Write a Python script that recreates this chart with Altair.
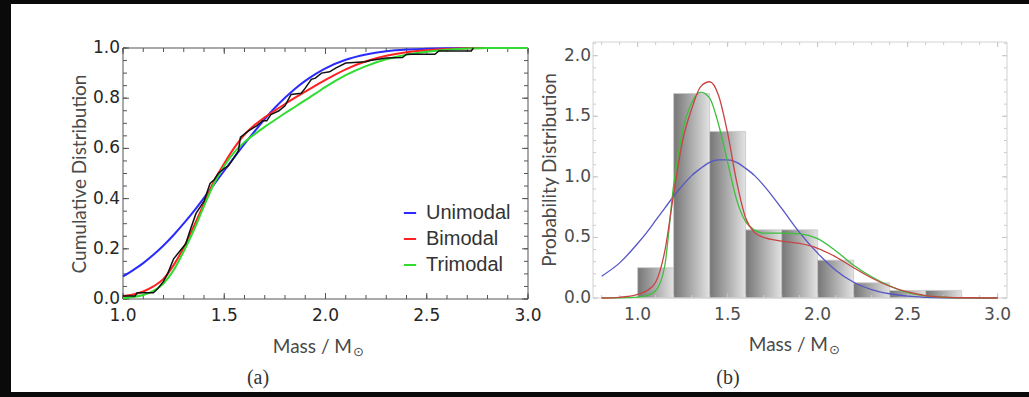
import altair as alt
import pandas as pd

# ---------------- data ----------------
models = ["Unimodal", "Bimodal", "Trimodal"]

# (a) cumulative distributions
cdf_mass = [1.0, 1.05, 1.1, 1.15, 1.2, 1.25, 1.3, 1.35, 1.4, 1.45, 1.5, 1.55, 1.6, 1.65,
            1.7, 1.75, 1.8, 1.85, 1.9, 1.95, 2.0, 2.1, 2.2, 2.3, 2.4, 2.5, 2.6, 2.7, 2.8, 3.0]
cdf_unimodal = [0.09, 0.115, 0.143, 0.176, 0.213, 0.255, 0.301, 0.35, 0.403, 0.457, 0.511,
                0.565, 0.618, 0.668, 0.717, 0.762, 0.802, 0.838, 0.869, 0.896, 0.919,
                0.953, 0.974, 0.987, 0.994, 0.997, 0.999, 1.0, 1.0, 1.0]
cdf_bimodal = [0.012, 0.018, 0.03, 0.05, 0.08, 0.135, 0.205, 0.29, 0.38, 0.47, 0.54,
               0.603, 0.655, 0.693, 0.724, 0.751, 0.777, 0.802, 0.826, 0.85, 0.873,
               0.915, 0.947, 0.969, 0.983, 0.991, 0.996, 0.999, 1.0, 1.0]
cdf_trimodal = [0.003, 0.008, 0.016, 0.032, 0.062, 0.115, 0.19, 0.275, 0.37, 0.46, 0.53,
                0.585, 0.625, 0.657, 0.686, 0.713, 0.74, 0.766, 0.792, 0.818, 0.845,
                0.892, 0.928, 0.955, 0.973, 0.985, 0.993, 0.998, 1.0, 1.0]

# empirical cumulative distribution (black)
emp_mass = [1.00, 1.06, 1.07, 1.15, 1.17, 1.20, 1.22, 1.25, 1.28, 1.31, 1.33, 1.36, 1.40,
            1.43, 1.45, 1.47, 1.50, 1.52, 1.55, 1.57, 1.58, 1.62, 1.66, 1.69, 1.71, 1.73,
            1.77, 1.80, 1.83, 1.88, 1.90, 1.93, 1.95, 1.98, 2.02, 2.05, 2.10, 2.20, 2.22,
            2.30, 2.38, 2.40, 2.54, 2.56, 2.72, 2.73]
emp_cdf = [0.012, 0.012, 0.025, 0.025, 0.04, 0.07, 0.10, 0.16, 0.19, 0.22, 0.27, 0.34, 0.39,
           0.46, 0.475, 0.50, 0.52, 0.53, 0.565, 0.59, 0.645, 0.67, 0.69, 0.71, 0.71, 0.735,
           0.75, 0.77, 0.815, 0.82, 0.84, 0.875, 0.88, 0.90, 0.905, 0.92, 0.94, 0.945, 0.95,
           0.96, 0.962, 0.975, 0.975, 0.988, 0.988, 1.0]

# (b) probability distributions
pdf_mass = [0.8, 0.9, 1.0, 1.05, 1.1, 1.15, 1.2, 1.25, 1.3, 1.35, 1.4, 1.45, 1.5, 1.55,
            1.6, 1.65, 1.7, 1.8, 1.9, 2.0, 2.1, 2.2, 2.3, 2.4, 2.5, 2.6, 2.7, 2.8, 3.0]
pdf_unimodal = [0.18, 0.29, 0.45, 0.54, 0.64, 0.74, 0.84, 0.93, 1.01, 1.07, 1.12, 1.14,
                1.14, 1.12, 1.07, 1.01, 0.93, 0.74, 0.54, 0.37, 0.23, 0.13, 0.07, 0.035,
                0.015, 0.006, 0.002, 0.001, 0.0]
pdf_bimodal = [0.0, 0.006, 0.03, 0.06, 0.13, 0.38, 0.86, 1.30, 1.56, 1.745, 1.785, 1.67,
               1.36, 0.96, 0.66, 0.54, 0.50, 0.47, 0.45, 0.41, 0.34, 0.25, 0.165, 0.097,
               0.05, 0.02, 0.007, 0.002, 0.0]
pdf_trimodal = [0.0, 0.001, 0.008, 0.02, 0.06, 0.26, 0.93, 1.38, 1.61, 1.70, 1.65, 1.43,
                1.12, 0.81, 0.63, 0.56, 0.535, 0.535, 0.53, 0.49, 0.39, 0.27, 0.175, 0.10,
                0.045, 0.018, 0.006, 0.002, 0.0]

hist_lo = [1.0, 1.2, 1.4, 1.6, 1.8, 2.0, 2.2, 2.4, 2.6]
hist_hi = [1.2, 1.4, 1.6, 1.8, 2.0, 2.2, 2.4, 2.6, 2.8]
hist_density = [0.25, 1.6875, 1.375, 0.5625, 0.5625, 0.3125, 0.125, 0.0625, 0.0625]

# axis tick labels
a_xlabels = [1.0, 1.5, 2.0, 2.5, 3.0]
a_ylabels = [0.0, 0.2, 0.4, 0.6, 0.8, 1.0]
b_xlabels = [1.0, 1.5, 2.0, 2.5, 3.0]
b_ylabels = [0.0, 0.5, 1.0, 1.5, 2.0]

assert len(emp_mass) == len(emp_cdf)
assert len(cdf_mass) == len(cdf_unimodal) == len(cdf_bimodal) == len(cdf_trimodal)
assert len(pdf_mass) == len(pdf_unimodal) == len(pdf_bimodal) == len(pdf_trimodal)

# ---------------- styling ----------------
W1, H1, TOP1 = 405, 257, 6      # panel (a): plot frame starts 6 px below the cell top
W2, H2 = 414, 256
A_COLORS = ["#2a2aff", "#ff2020", "#2fdc2f"]
B_COLORS = ["#5555c8", "#c84444", "#3cbf3c"]
LABEL_FONT = "DejaVu Sans"
TITLE_FONT = "Lato"
TITLE_COLOR = "#4a4a4a"
BORDER = "#0a0a0a"

one = pd.DataFrame({"k": [0]})

a_x = alt.Scale(domain=[1.0, 3.0], nice=False, zero=False)
a_y = alt.Scale(domain=[0.0, 1.0 + TOP1 / (H1 - TOP1)], nice=False, zero=False)
b_x = alt.Scale(domain=[0.752, 3.052], nice=False, zero=False)
b_y = alt.Scale(domain=[0.0, 2.113], nice=False, zero=False)


def frange(a, b, step):
    n = int(round((b - a) / step))
    return [round(a + i * step, 4) for i in range(n + 1)]


def tick_layers(xs, ys, xscale, yscale, W, H, top, length, color):
    layers = []
    dx = pd.DataFrame({"t": xs})
    dy = pd.DataFrame({"t": ys})
    base_x = alt.Chart(dx).mark_rule(color=color, strokeWidth=1)
    base_y = alt.Chart(dy).mark_rule(color=color, strokeWidth=1)
    X = alt.X("t:Q", scale=xscale, axis=None)
    Y = alt.Y("t:Q", scale=yscale, axis=None)
    layers.append(base_x.encode(x=X, y=alt.value(H), y2=alt.value(H - length)))
    layers.append(base_x.encode(x=X, y=alt.value(top), y2=alt.value(top + length)))
    layers.append(base_y.encode(y=Y, x=alt.value(0), x2=alt.value(length)))
    layers.append(base_y.encode(y=Y, x=alt.value(W), x2=alt.value(W - length)))
    return layers


def label_layers(xvals, yvals, xscale, yscale, xlab_y, ylab_x, color, size):
    dx = pd.DataFrame({"v": xvals, "s": [f"{v:.1f}" for v in xvals]})
    dy = pd.DataFrame({"v": yvals, "s": [f"{v:.1f}" for v in yvals]})
    lx = alt.Chart(dx).mark_text(font=LABEL_FONT, fontSize=size, color=color,
                                 baseline="middle", align="center").encode(
        x=alt.X("v:Q", scale=xscale, axis=None), y=alt.value(xlab_y), text="s:N")
    ly = alt.Chart(dy).mark_text(font=LABEL_FONT, fontSize=size, color=color,
                                 baseline="middle", align="right").encode(
        y=alt.Y("v:Q", scale=yscale, axis=None), x=alt.value(ylab_x), text="s:N")
    return [lx, ly]


def text_at(txt, x, y, font=TITLE_FONT, size=19, color=TITLE_COLOR, angle=0, align="center"):
    return alt.Chart(one).mark_text(text=txt, font=font, fontSize=size, color=color,
                                    angle=angle, baseline="middle", align=align).encode(
        x=alt.value(x), y=alt.value(y))


def mass_title(x_end, y):
    # "Mass / M" followed by a subscript solar symbol
    return [text_at("Mass / M", x_end, y, align="right"),
            text_at("\u2299", x_end + 1, y + 5, font="DejaVu Sans", size=13, align="left")]


def strip(x0, x1, y0, y1):
    return alt.Chart(one).mark_rect(color=BORDER).encode(
        x=alt.value(x0), x2=alt.value(x1), y=alt.value(y0), y2=alt.value(y1))


# ---------------- panel (a) ----------------
border_a = [strip(-123, -112, -42, 355), strip(-123, 450, -42, -38), strip(-123, 450, 350, 355)]

frame_a = alt.Chart(one).mark_rect(fillOpacity=0, stroke="#555555", strokeWidth=1).encode(
    x=alt.value(0), x2=alt.value(W1), y=alt.value(TOP1), y2=alt.value(H1))

ticks_a = (tick_layers(frange(1.0, 3.0, 0.1), frange(0.0, 1.0, 0.05), a_x, a_y, W1, H1, TOP1, 4, "#555555")
           + tick_layers(frange(1.0, 3.0, 0.5), frange(0.0, 1.0, 0.2), a_x, a_y, W1, H1, TOP1, 6, "#555555"))

labels_a = label_layers(a_xlabels, a_ylabels, a_x, a_y, H1 + 17, -3, "#262626", 17)
titles_a = mass_title(229, 305) + [text_at("Cumulative Distribution", -43, 132, angle=270)]

cdf_rows = []
for name, vals in zip(models, [cdf_unimodal, cdf_bimodal, cdf_trimodal]):
    for m, f in zip(cdf_mass, vals):
        cdf_rows.append({"mass": m, "F": f, "model": name})
cdf_df = pd.DataFrame(cdf_rows)

curves_a = alt.Chart(cdf_df).mark_line(strokeWidth=2, interpolate="monotone").encode(
    x=alt.X("mass:Q", scale=a_x, axis=None),
    y=alt.Y("F:Q", scale=a_y, axis=None),
    color=alt.Color("model:N", scale=alt.Scale(domain=models, range=A_COLORS),
                    legend=alt.Legend(title=None, orient="none", legendX=277, legendY=161,
                                      symbolType="stroke", symbolSize=150,
                                      symbolStrokeWidth=2, labelFont="Liberation Sans",
                                      labelFontSize=20, labelColor="#333333",
                                      labelOffset=6, rowPadding=6, padding=0)),
    order=alt.Order("mass:Q"),
)

emp_df = pd.DataFrame({"mass": emp_mass, "F": emp_cdf})
emp_a = alt.Chart(emp_df).mark_line(color="#111111", strokeWidth=1.5).encode(
    x=alt.X("mass:Q", scale=a_x, axis=None), y=alt.Y("F:Q", scale=a_y, axis=None),
    order=alt.Order("mass:Q"))

label_a = text_at("(a)", 135, 336, font="Liberation Serif", size=20, color="#333333")

panel_a = alt.layer(*border_a, *ticks_a, frame_a, curves_a, emp_a, *labels_a, *titles_a,
                    label_a).properties(width=W1, height=H1)

# ---------------- panel (b) ----------------
border_b = [strip(-70, 436, -42, -38), strip(-70, 436, 350, 355)]

frame_b = alt.Chart(one).mark_rect(fillOpacity=0, stroke="#d2d2d2", strokeWidth=1).encode(
    x=alt.value(0), x2=alt.value(W2), y=alt.value(0), y2=alt.value(H2))

ticks_b = (tick_layers(frange(0.8, 3.0, 0.1), frange(0.0, 2.1, 0.1), b_x, b_y, W2, H2, 0, 3, "#cccccc")
           + tick_layers(frange(1.0, 3.0, 0.5), frange(0.0, 2.0, 0.5), b_x, b_y, W2, H2, 0, 5, "#c4c4c4"))

labels_b = label_layers(b_xlabels, b_ylabels, b_x, b_y, H2 + 17, -2, "#4d4d4d", 17)
titles_b = mass_title(235, 303) + [text_at("Probability Distribution", -43, 128, angle=270)]

hist_df = pd.DataFrame({"lo": hist_lo, "hi": hist_hi, "density": hist_density})
bars_b = alt.Chart(hist_df).mark_rect(
    color=alt.Gradient(gradient="linear",
                       stops=[alt.GradientStop(color="#767676", offset=0),
                              alt.GradientStop(color="#e2e2e2", offset=1)],
                       x1=0, x2=1, y1=0, y2=0),
    stroke="#c8c8c8", strokeWidth=0.8).encode(
    x=alt.X("lo:Q", scale=b_x, axis=None),
    x2="hi:Q",
    y=alt.Y("density:Q", scale=b_y, axis=None),
    y2=alt.datum(0),
)

pdf_layers = []
for vals, col in zip([pdf_unimodal, pdf_trimodal, pdf_bimodal], [B_COLORS[0], B_COLORS[2], B_COLORS[1]]):
    d = pd.DataFrame({"mass": pdf_mass, "p": vals})
    pdf_layers.append(alt.Chart(d).mark_line(color=col, strokeWidth=1.3, interpolate="monotone").encode(
        x=alt.X("mass:Q", scale=b_x, axis=None), y=alt.Y("p:Q", scale=b_y, axis=None),
        order=alt.Order("mass:Q")))

label_b = text_at("(b)", 135, 336, font="Liberation Serif", size=20, color="#333333")

panel_b = alt.layer(*border_b, bars_b, *ticks_b, frame_b, *pdf_layers, *labels_b, *titles_b,
                    label_b).properties(width=W2, height=H2)

chart = alt.hconcat(panel_a, panel_b, spacing=65, bounds="flush").properties(
    padding=0,
    background="white",
).configure_view(stroke=None)

chart.save("out.html", embed_options={"renderer": "svg", "actions": False})
